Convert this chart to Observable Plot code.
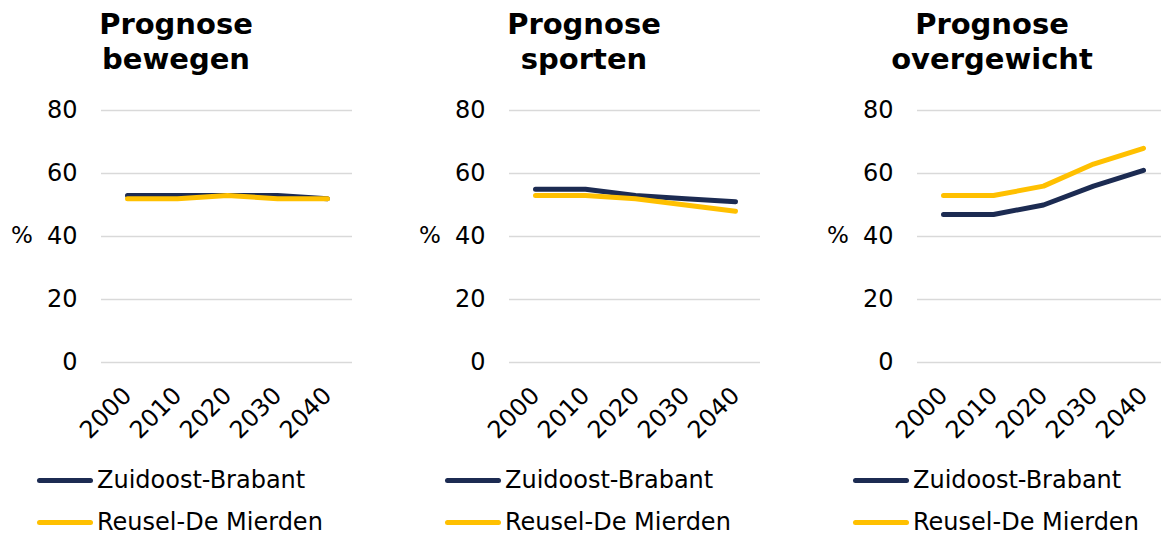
<!DOCTYPE html>
<html>
<head>
<meta charset="utf-8">
<script src="https://cdn.jsdelivr.net/npm/d3@7"></script>
<script src="https://cdn.jsdelivr.net/npm/@observablehq/plot@0.6"></script>
<style>
  html, body { margin: 0; padding: 0; background: #fff; overflow: hidden; width: 1161px; height: 537px; }
  body { position: relative; font-family: "DejaVu Sans", Verdana, sans-serif; color: #000; }
  .panel { position: absolute; top: 0; width: 408px; height: 537px; }
  .title { position: absolute; left: 0; top: 7px; width: 352px; text-align: center; font-weight: bold; font-size: 29px; line-height: 35px; }
  .chart { position: absolute; left: 0; top: 90px; }
  .pct { position: absolute; left: 11px; top: 224px; font-size: 23px; line-height: 23px; }
  .item { position: absolute; left: 37px; height: 20px; display: flex; align-items: center; font-size: 24px; line-height: 20px; white-space: nowrap; }
  .swatch { display: inline-block; width: 56px; height: 5px; border-radius: 3px; margin-right: 4px; }
</style>
</head>
<body>
<script>
const years = [2000, 2010, 2020, 2030, 2040];
const seriesNames = ["Zuidoost-Brabant", "Reusel-De Mierden"];
const seriesColors = ["#1c2b52", "#ffc000"];
const panelTitles = [["Prognose", "bewegen"], ["Prognose", "sporten"], ["Prognose", "overgewicht"]];
const yTicks = [0, 20, 40, 60, 80];

const bewegenZuidoost = [53, 53, 53, 53, 52];
const bewegenReusel   = [52, 52, 53, 52, 52];
const sportenZuidoost = [55, 55, 53, 52, 51];
const sportenReusel   = [53, 53, 52, 50, 48];
const overgewichtZuidoost = [47, 47, 50, 56, 61];
const overgewichtReusel   = [53, 53, 56, 63, 68];

const panelValues = [
  [bewegenZuidoost, bewegenReusel],
  [sportenZuidoost, sportenReusel],
  [overgewichtZuidoost, overgewichtReusel]
];

const legendTops = [470, 512];

panelValues.forEach((vals, i) => {
  const panel = document.createElement("div");
  panel.className = "panel";
  panel.style.left = (i * 408) + "px";
  document.body.appendChild(panel);

  const t = document.createElement("div");
  t.className = "title";
  t.innerHTML = panelTitles[i].join("<br>");
  panel.appendChild(t);

  const data = [];
  vals.forEach((arr, s) => arr.forEach((v, k) => data.push({year: years[k], value: v, series: seriesNames[s]})));

  const chart = Plot.plot({
    width: 408,
    height: 360,
    marginLeft: 101,
    marginRight: 56,
    marginTop: 20,
    marginBottom: 88,
    style: {fontFamily: "DejaVu Sans, Verdana, sans-serif", fontSize: "24px", color: "#000", background: "transparent", overflow: "visible"},
    x: {type: "point", domain: years, padding: 0.5},
    y: {domain: [0, 80]},
    color: {domain: seriesNames, range: seriesColors},
    marks: [
      Plot.gridY(yTicks, {stroke: "#d9d9d9", strokeOpacity: 1, strokeWidth: 1.5}),
      Plot.axisY(yTicks, {tickSize: 0, tickPadding: 24, fontSize: 24, label: null}),
      Plot.axisX({tickSize: 0, tickRotate: -45, tickPadding: 29, fontSize: 24, label: null,
                  textAnchor: "end", lineAnchor: "middle", tickFormat: d => String(d)}),
      Plot.line(data, {x: "year", y: "value", z: "series", stroke: "series", strokeWidth: 5, strokeLinecap: "round", strokeLinejoin: "round"})
    ]
  });
  chart.classList.add("chart");
  panel.appendChild(chart);

  const pct = document.createElement("div");
  pct.className = "pct";
  pct.textContent = "%";
  panel.appendChild(pct);

  seriesNames.forEach((n, s) => {
    const it = document.createElement("div");
    it.className = "item";
    it.style.top = legendTops[s] + "px";
    it.innerHTML = `<span class="swatch" style="background:${seriesColors[s]}"></span><span>${n}</span>`;
    panel.appendChild(it);
  });
});
</script>
</body>
</html>
